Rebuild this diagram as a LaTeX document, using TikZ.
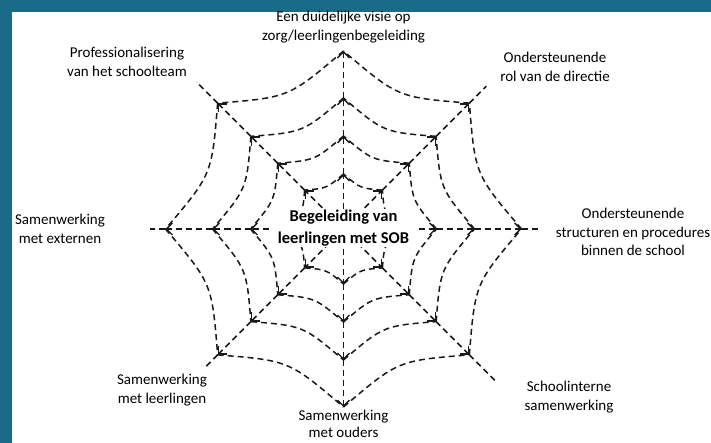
\documentclass[tikz,border=0pt]{standalone}
\usepackage{fontspec}
\setmainfont{Carlito}
\usetikzlibrary{arrows.meta,calc}
\definecolor{kader}{RGB}{26,107,138}

\begin{document}
\begin{tikzpicture}[
    x=1pt, y=1pt,
    font=\fontsize{15}{18.5}\selectfont,
    web/.style={
        draw=black!90,
        line width=1.5pt,
        dash pattern=on 6pt off 4pt
    },
    spoke/.style={web, -{Straight Barb[length=6pt,width=12pt,line width=1.4pt]}},
    lab/.style={align=center, inner sep=1pt},
    kern/.style={
        align=center,
        fill=white,
        inner xsep=8pt,
        inner ysep=1pt,
        font=\fontsize{16.5}{22}\selectfont\bfseries
    }
]
\useasboundingbox (-343.5,-214) rectangle (367.5,229);

% ============================================================
% KADER
% ============================================================
\fill[kader] (-343.5,-214) rectangle (-331.5,229);
\fill[kader] (-343.5,217) rectangle (367.5,229);

% ============================================================
% PUNTEN VAN HET WEB
% ============================================================
\foreach \a/\t in {0/18,45/24,90/0,135/30,180/15,225/17,270/0,315/38} {
    \coordinate (v\a-0) at (\a:20pt);
    \foreach \r [count=\k] in {55,93,131,178} {
        \coordinate (v\a-\k) at (\a:\r pt);
    }
    \pgfmathsetmacro\rt{178+\t}
    \coordinate (v\a-5) at (\a:\rt pt);
}

% ringen
\foreach \a in {0,45,...,315} {
    \pgfmathtruncatemacro\b{mod(\a+45,360)}
    \foreach \r [count=\k] in {55,93,131,178} {
        \pgfmathsetmacro\rc{0.8*\r}
        \draw[web] (v\a-\k) .. controls ({\a+22.5}:\rc pt) .. (v\b-\k);
    }
}

% spaken
\foreach \a/\t in {0/18,45/24,90/0,135/30,180/15,225/17,270/0,315/38} {
    \foreach \k [evaluate=\k as \j using int(\k-1)] in {1,...,4} {
        \draw[spoke] (v\a-\j) -- (v\a-\k);
    }
    \ifnum\t>0 \draw[web] (v\a-4) -- (v\a-5); \fi
}

% ============================================================
% LABELS
% ============================================================
\node[lab] (visie) at (0,202) {Een duidelijke visie op\\zorg/leerlingenbegeleiding};
\node[lab] (prof) at (-216.5,167) {Professionalisering\\van het schoolteam};
\node[lab] (directie) at (211.5,162) {Ondersteunende\\rol van de directie};
\node[lab] (externen) at (-283.5,0) {Samenwerking\\met externen};
\node[lab] (structuren) at (289.5,-3) {Ondersteunende\\structuren en procedures\\binnen de school};
\node[lab] (leerlingen) at (-181.5,-161) {Samenwerking\\met leerlingen};
\node[lab, font=\fontsize{15}{17}\selectfont] (ouders) at (0,-195) {Samenwerking\\met ouders};
\node[lab] (intern) at (225.5,-168) {Schoolinterne\\samenwerking};

\node[kern] (sob) at (0,1) {Begeleiding van\\leerlingen met SOB};

\end{tikzpicture}
\end{document}
